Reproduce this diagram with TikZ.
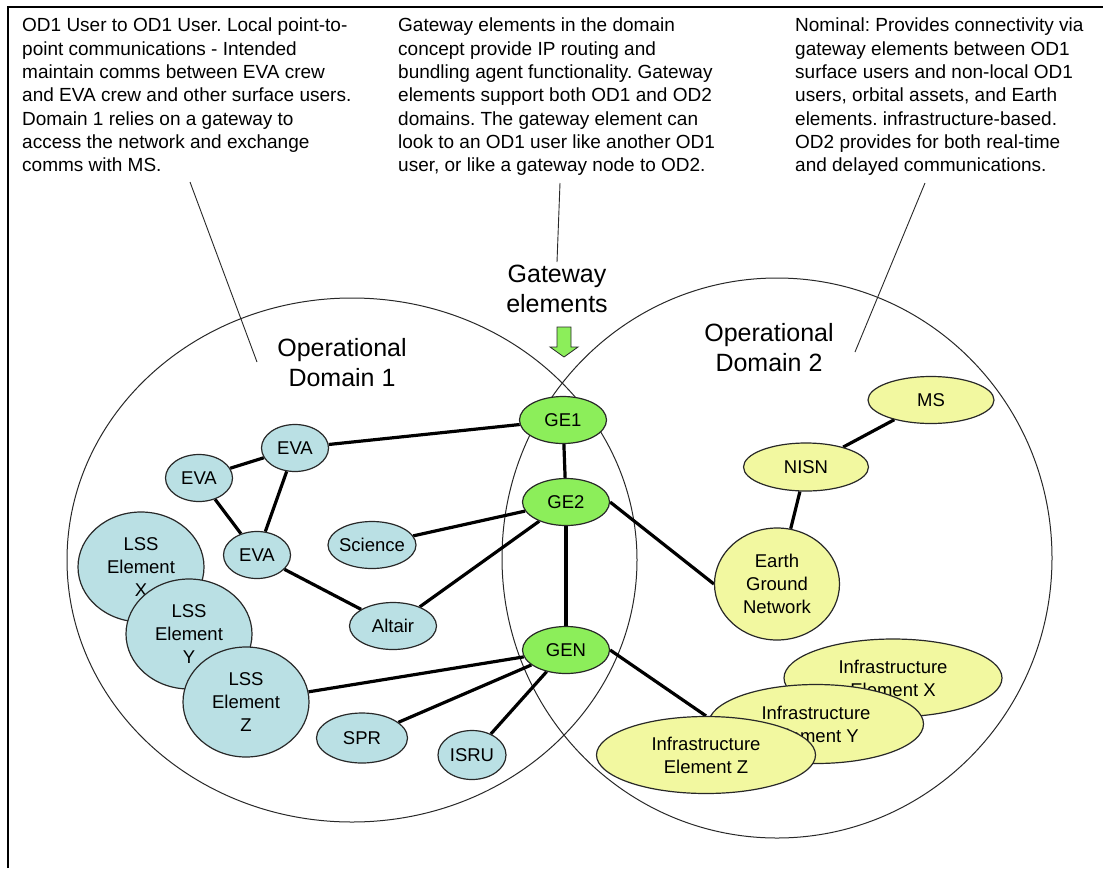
\documentclass[tikz,border=0pt]{standalone}
\usepackage{fontspec}
\setmainfont{Liberation Sans}
\usetikzlibrary{shapes.geometric, backgrounds}
\frenchspacing
\definecolor{cUser}{RGB}{186,224,228}
\definecolor{cGate}{RGB}{140,238,90}
\definecolor{cInfra}{RGB}{242,248,160}
\definecolor{cLine}{RGB}{40,40,40}
\tikzset{
	usr/.style   ={ellipse, draw=cLine, line width=1.2pt, fill=cUser, inner sep=0pt, align=center, font=\fontsize{18.5}{23}\selectfont},
	gwy/.style   ={usr, fill=cGate, minimum width=87pt, minimum height=47pt},
	infra/.style ={usr, fill=cInfra},
	link/.style  ={line width=3.2pt, black},
	lead/.style  ={line width=0.9pt, cLine},
	odline/.style={line width=1pt, cLine},
	note/.style  ={anchor=north west, inner sep=0pt, align=left, font=\fontsize{19}{23.3}\selectfont},
	dlabel/.style={align=center, inner sep=0pt, font=\fontsize{25}{30}\selectfont},
	gwarrow/.style={fill=cGate, draw=cLine, line width=0.8pt},
}

\begin{document}
\begin{tikzpicture}[x=1pt, y=-1pt,
		eva/.style={usr, minimum width=67pt, minimum height=47pt},
		lss/.style={usr, minimum width=126pt, minimum height=110pt}]
	\useasboundingbox (0,0) rectangle (1103,868);
	\draw[line width=2.5pt] (8,868) -- (8,7) -- (1103,7);
	% notes along the top
	\node[note] (noteL) at (22,18) {OD1 User to OD1 User. Local point-to-\\point communications - Intended\\maintain comms between EVA crew\\and EVA crew and other surface users.\\Domain 1 relies on a gateway to\\access the network and exchange\\comms with MS.};
	\node[note] (noteM) at (398,18) {Gateway elements in the domain\\concept provide IP routing and\\bundling agent functionality. Gateway\\elements support both OD1 and OD2\\domains. The gateway element can\\look to an OD1 user like another OD1\\user, or like a gateway node to OD2.};
	\node[note] (noteR) at (795,18) {Nominal: Provides connectivity via\\gateway elements between OD1\\surface users and non-local OD1\\users, orbital assets, and Earth\\elements. infrastructure-based.\\OD2 provides for both real-time\\and delayed communications.};
	\coordinate (tagL) at (190,182); \coordinate (endL) at (257,362);
	\coordinate (tagM) at (560,183); \coordinate (endM) at (557,262);
	\coordinate (tagR) at (925,183); \coordinate (endR) at (855,352);
	\draw[lead] (tagL) -- (endL);
	\draw[lead] (tagM) -- (endM);
	\draw[lead] (tagR) -- (endR);

	\node[dlabel] (od1) at (342,363) {Operational\\Domain 1};
	\node[dlabel] (od2) at (769,348) {Operational\\Domain 2};
	\node[dlabel] (gwlbl) at (557,289) {Gateway\\elements};
	\draw[gwarrow] (557,327) -- (571,327) -- (571,347) -- (578,347) -- (564,357) -- (550,347) -- (557,347) -- cycle;

	% domain 1 users
	\node[eva] (eva1) at (295,448) {EVA};
	\node[eva] (eva2) at (199,478) {EVA};
	\node[eva] (eva3) at (257,555) {EVA};
	\node[usr, minimum width=88pt, minimum height=47pt, inner xsep=-3pt] (sci) at (372,545) {Science};
	\node[usr, minimum width=87pt, minimum height=47pt] (altair) at (393,626) {Altair};
	\node[lss] (lssx) at (141,567) {LSS\\Element\\X};
	\node[lss] (lssy) at (189,634) {LSS\\Element\\Y};
	\node[lss] (lssz) at (246,702) {LSS\\Element\\Z};
	\node[usr, minimum width=91pt, minimum height=50pt] (spr) at (362,738) {SPR};
	\node[usr, minimum width=68pt, minimum height=49pt] (isru) at (472,755) {ISRU};

	% gateways
	\node[gwy] (ge1) at (563,420) {GE1};
	\node[gwy] (ge2) at (566,502) {GE2};
	\node[gwy] (gen) at (566,650) {GEN};

	% domain 2 elements
	\node[infra, minimum width=126pt, minimum height=47pt] (ms) at (931,400) {MS};
	\node[infra, minimum width=125pt, minimum height=48pt] (nisn) at (806,467) {NISN};
	\node[infra, minimum width=125pt, minimum height=112pt] (earth) at (777,584) {Earth\\Ground\\Network};
	\node[infra, minimum width=218pt, minimum height=78pt] (infx) at (893,678) {Infrastructure\\Element X};
	\node[infra, minimum width=215pt, minimum height=79pt] (infy) at (816,724) {Infrastructure\\Element Y};
	\node[infra, minimum width=219pt, minimum height=77pt] (infz) at (706,755) {Infrastructure\\Element Z};

	\begin{scope}[on background layer]
		\draw[odline] (352,560) ellipse [x radius=285, y radius=262];
		\draw[odline] (777,558) ellipse [x radius=275, y radius=280];
		\foreach \a/\b in {eva2/eva1, eva2/eva3, eva1/eva3, eva1/ge1, eva3/altair, sci/ge2, altair/ge2, ge1/ge2, ge2/gen, gen/lssz, gen/spr, gen/isru, nisn/ms, nisn/earth}
			\draw[link] (\a) -- (\b);
		\draw[link] (ge2.east) -- (earth.west);
		\draw[link] (gen.east) -- (infz.north);
	\end{scope}
\end{tikzpicture}
\end{document}
